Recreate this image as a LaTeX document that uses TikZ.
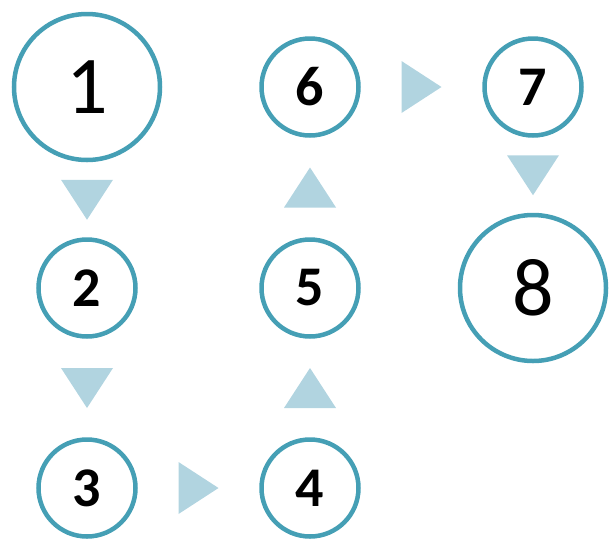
\documentclass[tikz,border=0pt]{standalone}
\usepackage{fontspec}
\setmainfont{Carlito}
\usetikzlibrary{calc}
\definecolor{ringc}{HTML}{459FB5}
\definecolor{tric}{HTML}{B1D4E0}
\tikzset{
  smallc/.style={circle,draw=ringc,line width=4.5pt,fill=white,minimum size=97pt,inner sep=0pt,font=\bfseries\fontsize{56}{56}\selectfont},
  bigc/.style={circle,draw=ringc,line width=4.5pt,fill=white,minimum size=146pt,inner sep=0pt,font=\fontsize{82}{82}\selectfont},
  tri/.style={fill=tric}
}
\newcommand\tridown[1]{\fill[tri] (#1) ++(-26,-20) -- ++(52,0) -- ++(-26,40) -- cycle;}
\newcommand\triup[1]{\fill[tri] (#1) ++(-26,20) -- ++(52,0) -- ++(-26,-40) -- cycle;}
\newcommand\triright[1]{\fill[tri] (#1) ++(-20,-26) -- ++(0,52) -- ++(40,-26) -- cycle;}
\begin{document}
\begin{tikzpicture}[x=1pt,y=-1pt]
\useasboundingbox (0,0) rectangle (610,539);
\node[bigc] (n1) at (87,87) {1};
\node[smallc] (n2) at (87,288) {2};
\node[smallc] (n3) at (87,488) {3};
\node[smallc] (n4) at (310,488) {4};
\node[smallc] (n5) at (310,288) {5};
\node[smallc] (n6) at (310,87) {6};
\node[smallc] (n7) at (533,87) {7};
\node[bigc] (n8) at (533,288) {8};
\coordinate (t12) at ($(n1.south)!0.5!(n2.north)$);
\coordinate (t23) at ($(n2.south)!0.5!(n3.north)$);
\coordinate (t34) at ($(n3.east)!0.5!(n4.west)$);
\coordinate (t45) at ($(n4.north)!0.5!(n5.south)$);
\coordinate (t56) at ($(n5.north)!0.5!(n6.south)$);
\coordinate (t67) at ($(n6.east)!0.5!(n7.west)$);
\coordinate (t78) at ($(n7.south)!0.5!(n8.north)$);
\tridown{t12}
\tridown{t23}
\triright{t34}
\triup{t45}
\triup{t56}
\triright{t67}
\tridown{t78}
\end{tikzpicture}
\end{document}
